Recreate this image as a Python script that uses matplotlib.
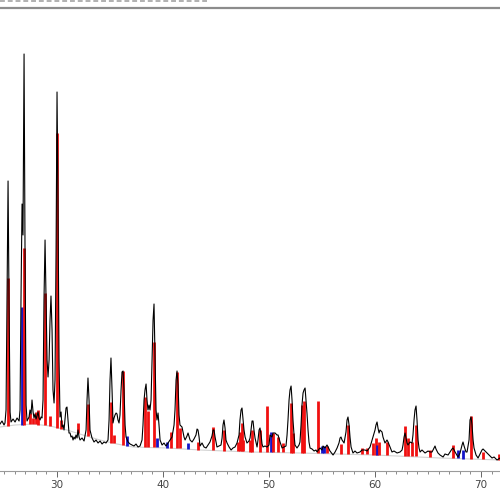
import matplotlib
matplotlib.use("Agg")
import matplotlib.pyplot as plt
from matplotlib.lines import Line2D
from matplotlib.patches import Rectangle
from matplotlib.ticker import MultipleLocator

# ---- observed XRD profile (2theta in degrees, intensity in arbitrary counts) ----
two_theta = [
    24.62, 24.81, 25.00, 25.09, 25.19, 25.28, 25.38, 25.47, 25.57, 25.66, 25.85, 26.04, 26.23, 26.42,
    26.51, 26.60, 26.70, 26.79, 26.89, 26.98, 27.08, 27.17, 27.36, 27.45, 27.55, 27.64, 27.74, 27.83,
    27.92, 28.02, 28.11, 28.21, 28.30, 28.40, 28.49, 28.58, 28.68, 28.77, 28.87, 28.96, 29.06, 29.15,
    29.25, 29.34, 29.43, 29.53, 29.62, 29.72, 29.81, 29.91, 30.00, 30.09, 30.19, 30.28, 30.38, 30.47,
    30.57, 30.66, 30.75, 30.85, 30.94, 31.04, 31.13, 31.23, 31.32, 31.42, 31.51, 31.60, 31.70, 31.79,
    31.89, 31.98, 32.08, 32.17, 32.36, 32.55, 32.74, 32.83, 32.92, 33.02, 33.11, 33.30, 33.49, 33.68,
    33.87, 34.06, 34.25, 34.43, 34.62, 34.81, 34.91, 35.00, 35.09, 35.19, 35.28, 35.38, 35.47, 35.57,
    35.66, 35.75, 35.85, 35.94, 36.04, 36.13, 36.23, 36.32, 36.42, 36.51, 36.70, 36.89, 37.08, 37.26,
    37.45, 37.64, 37.83, 38.02, 38.11, 38.21, 38.30, 38.40, 38.49, 38.58, 38.68, 38.77, 38.87, 38.96,
    39.06, 39.15, 39.25, 39.34, 39.43, 39.53, 39.62, 39.72, 39.91, 40.09, 40.28, 40.47, 40.66, 40.85,
    41.04, 41.13, 41.23, 41.32, 41.42, 41.51, 41.60, 41.79, 41.98, 42.08, 42.26, 42.36, 42.55, 42.74,
    42.92, 43.11, 43.21, 43.30, 43.40, 43.49, 43.68, 43.87, 44.06, 44.25, 44.43, 44.62, 44.72, 44.81,
    44.91, 45.09, 45.28, 45.47, 45.57, 45.66, 45.75, 45.85, 45.94, 46.04, 46.23, 46.42, 46.60, 46.79,
    46.98, 47.17, 47.26, 47.36, 47.45, 47.55, 47.64, 47.74, 47.92, 48.11, 48.21, 48.30, 48.40, 48.49,
    48.58, 48.68, 48.87, 48.96, 49.06, 49.15, 49.25, 49.34, 49.43, 49.62, 49.81, 50.00, 50.09, 50.28,
    50.38, 50.57, 50.75, 50.85, 51.04, 51.23, 51.42, 51.60, 51.70, 51.79, 51.89, 51.98, 52.08, 52.17,
    52.26, 52.36, 52.45, 52.64, 52.83, 52.92, 53.02, 53.11, 53.21, 53.30, 53.40, 53.49, 53.58, 53.68,
    53.77, 53.87, 54.06, 54.25, 54.43, 54.53, 54.72, 54.81, 55.00, 55.09, 55.28, 55.47, 55.57, 55.75,
    56.04, 56.23, 56.42, 56.60, 56.70, 56.79, 56.89, 57.08, 57.26, 57.36, 57.45, 57.55, 57.64, 57.74,
    57.92, 58.11, 58.30, 58.58, 58.77, 59.06, 59.25, 59.53, 59.72, 59.81, 60.00, 60.09, 60.19, 60.28,
    60.38, 60.47, 60.57, 60.66, 60.75, 60.94, 61.13, 61.23, 61.42, 61.60, 61.79, 62.08, 62.36, 62.55,
    62.64, 62.74, 62.83, 62.92, 63.02, 63.11, 63.30, 63.49, 63.58, 63.68, 63.77, 63.87, 63.96, 64.06,
    64.15, 64.25, 64.43, 64.72, 65.00, 65.19, 65.38, 65.57, 65.66, 65.75, 65.94, 66.13, 66.42, 66.60,
    66.89, 67.08, 67.26, 67.36, 67.55, 67.83, 68.02, 68.21, 68.30, 68.40, 68.58, 68.68, 68.87, 68.96,
    69.06, 69.15, 69.25, 69.34, 69.53, 69.72, 69.91, 70.09, 70.19, 70.38, 70.57, 70.75, 71.04, 71.23,
    71.51, 71.79,
]
intensity = [
    48, 51, 47, 49, 62, 172, 291, 172, 60, 50, 53, 50, 54, 51,
    62, 172, 268, 237, 418, 222, 67, 51, 55, 62, 58, 72, 60, 54,
    58, 53, 56, 60, 54, 52, 55, 54, 72, 172, 232, 172, 112, 95,
    112, 152, 176, 142, 82, 69, 92, 222, 380, 272, 112, 55, 60, 45,
    47, 42, 52, 64, 65, 52, 39, 39, 35, 36, 32, 35, 33, 37,
    34, 42, 35, 32, 34, 31, 42, 72, 94, 72, 42, 34, 30, 32,
    29, 31, 28, 30, 29, 32, 52, 92, 114, 82, 49, 54, 57, 59,
    58, 52, 49, 57, 82, 100, 101, 82, 47, 35, 30, 28, 27, 26,
    28, 25, 26, 32, 47, 72, 82, 88, 72, 62, 67, 62, 72, 112,
    152, 168, 112, 62, 52, 59, 47, 32, 27, 29, 26, 29, 32, 35,
    47, 62, 92, 101, 87, 57, 47, 45, 35, 32, 36, 39, 32, 30,
    33, 37, 43, 42, 35, 26, 29, 25, 24, 27, 30, 36, 42, 42,
    35, 25, 26, 27, 34, 47, 52, 44, 32, 29, 25, 22, 24, 25,
    29, 37, 52, 62, 64, 52, 42, 35, 29, 31, 34, 42, 51, 51,
    42, 34, 25, 32, 42, 44, 37, 28, 25, 26, 25, 27, 37, 35,
    39, 39, 37, 37, 30, 24, 25, 26, 37, 52, 72, 82, 86, 72,
    52, 37, 27, 24, 27, 30, 47, 67, 79, 82, 84, 72, 59, 42,
    30, 24, 23, 21, 22, 20, 23, 24, 22, 26, 24, 27, 25, 21,
    17, 20, 24, 29, 34, 35, 32, 29, 40, 52, 55, 47, 35, 25,
    19, 21, 19, 20, 22, 22, 21, 25, 32, 35, 42, 47, 50, 44,
    39, 42, 41, 40, 35, 29, 32, 30, 25, 20, 21, 19, 20, 22,
    27, 35, 39, 34, 29, 27, 30, 29, 37, 52, 62, 66, 52, 32,
    24, 20, 22, 19, 21, 20, 20, 24, 26, 23, 19, 17, 15, 18,
    17, 20, 23, 24, 20, 15, 19, 27, 30, 26, 20, 20, 32, 52,
    55, 47, 32, 24, 17, 14, 18, 22, 23, 21, 19, 17, 14, 15,
    12, 14,
]

# ---- fitted background curve ----
bg_theta = [24.62, 26.04, 27.74, 29.34, 30.94, 32.45, 34.06, 35.66, 37.17, 40.38,
            43.49, 48.21, 52.92, 60.00, 66.13, 71.79]
bg_int = [45, 47, 48, 46, 42, 37, 32, 28, 25, 24, 22, 20, 19, 17, 14, 12]

# ---- reference stick pattern (phase 1 = red, phase 2 = blue) ----
stick_theta = [25.38, 26.70, 26.89, 27.45, 27.74, 28.02, 28.21, 28.87, 29.34, 30.00,
               30.38, 31.98, 32.92, 35.09, 35.38, 36.23, 36.60, 38.30, 38.58, 39.15,
               39.43, 40.38, 40.75, 41.32, 41.60, 42.36, 43.30, 44.72, 45.75, 47.08,
               47.26, 47.45, 47.55, 48.21, 48.40, 49.15, 49.81, 50.19, 50.38, 50.85,
               51.32, 52.08, 52.26, 53.11, 53.30, 54.62, 55.00, 55.19, 55.47, 56.79,
               57.45, 58.77, 59.25, 59.81, 60.09, 60.19, 60.38, 61.13, 62.83, 63.11,
               63.49, 63.87, 65.19, 67.36, 67.83, 68.30, 69.06, 70.19, 71.70]
stick_top = [194, 165, 224, 59, 54, 60, 62, 179, 56, 339,
             52, 49, 68, 70, 37, 101, 36, 75, 61, 130,
             34, 30, 40, 100, 44, 29, 30, 45, 42, 30,
             40, 49, 32, 32, 42, 42, 66, 40, 39, 35,
             29, 69, 39, 67, 71, 71, 26, 26, 26, 28,
             47, 24, 24, 29, 34, 27, 30, 30, 46, 34,
             30, 47, 22, 27, 22, 22, 56, 20, 18]
stick_base = [46, 47, 47, 48, 48, 48, 47, 47, 46, 44,
              43, 39, 36, 29, 29, 27, 26, 25, 25, 25,
              25, 24, 24, 24, 24, 23, 22, 22, 21, 21,
              21, 21, 21, 20, 20, 20, 20, 20, 20, 20,
              20, 19, 19, 19, 19, 19, 19, 19, 19, 18,
              18, 18, 18, 17, 17, 17, 17, 17, 16, 16,
              16, 16, 15, 14, 14, 13, 13, 13, 12]
stick_phase = ["r", "b", "r", "r", "r", "r", "r", "r", "r", "r",
               "r", "r", "r", "r", "r", "r", "b", "r", "r", "r",
               "b", "b", "r", "r", "r", "b", "r", "r", "r", "r",
               "r", "r", "r", "r", "r", "r", "r", "b", "r", "r",
               "r", "r", "r", "r", "r", "r", "b", "b", "r", "r",
               "r", "r", "r", "r", "r", "b", "r", "r", "r", "r",
               "r", "r", "r", "r", "b", "b", "r", "r", "r"]

x_ticks = [30, 40, 50, 60, 70]
x_range = (24.62, 71.79)
y_range = (1, 464)

phase_colors = {"r": "#f01010", "b": "#1414c8"}

fig = plt.figure(figsize=(5, 5), dpi=100)
ax = fig.add_axes([0.0, 0.058, 1.0, 0.926])

ax.plot(bg_theta, bg_int, color="#d2d2d2", lw=0.8, zorder=1)
ax.vlines(stick_theta, stick_base, stick_top,
          colors=[phase_colors[p] for p in stick_phase], lw=2.0, zorder=2)
ax.plot(two_theta, intensity, color="black", lw=0.8, zorder=3)

ax.set_xlim(*x_range)
ax.set_ylim(*y_range)
ax.set_xticks(x_ticks)
ax.xaxis.set_minor_locator(MultipleLocator(1))
ax.set_yticks([])
ax.tick_params(axis="x", which="major", direction="out", length=4.3, width=0.7,
               color="#666666", labelsize=7.5, labelcolor="#444444", pad=2.5)
ax.tick_params(axis="x", which="minor", direction="out", length=2.2, width=0.6,
               color="#777777")
for side in ("left", "right"):
    ax.spines[side].set_visible(False)
ax.spines["top"].set_color("#8c8c8c")
ax.spines["top"].set_linewidth(1.6)
ax.spines["bottom"].set_color("#9a9a9a")
ax.spines["bottom"].set_linewidth(0.8)

# header decorations
fig.add_artist(Line2D([0.0, 0.414], [0.9985, 0.9985], transform=fig.transFigure,
                      color="#b0b0b0", lw=1.4, linestyle=(0, (2.5, 1.5))))
fig.add_artist(Rectangle((0.894, 0.83), 0.106, 0.134, transform=fig.transFigure,
                         facecolor="#f9f9f9", edgecolor="none", zorder=0))

fig.savefig("out.png", dpi=100)
